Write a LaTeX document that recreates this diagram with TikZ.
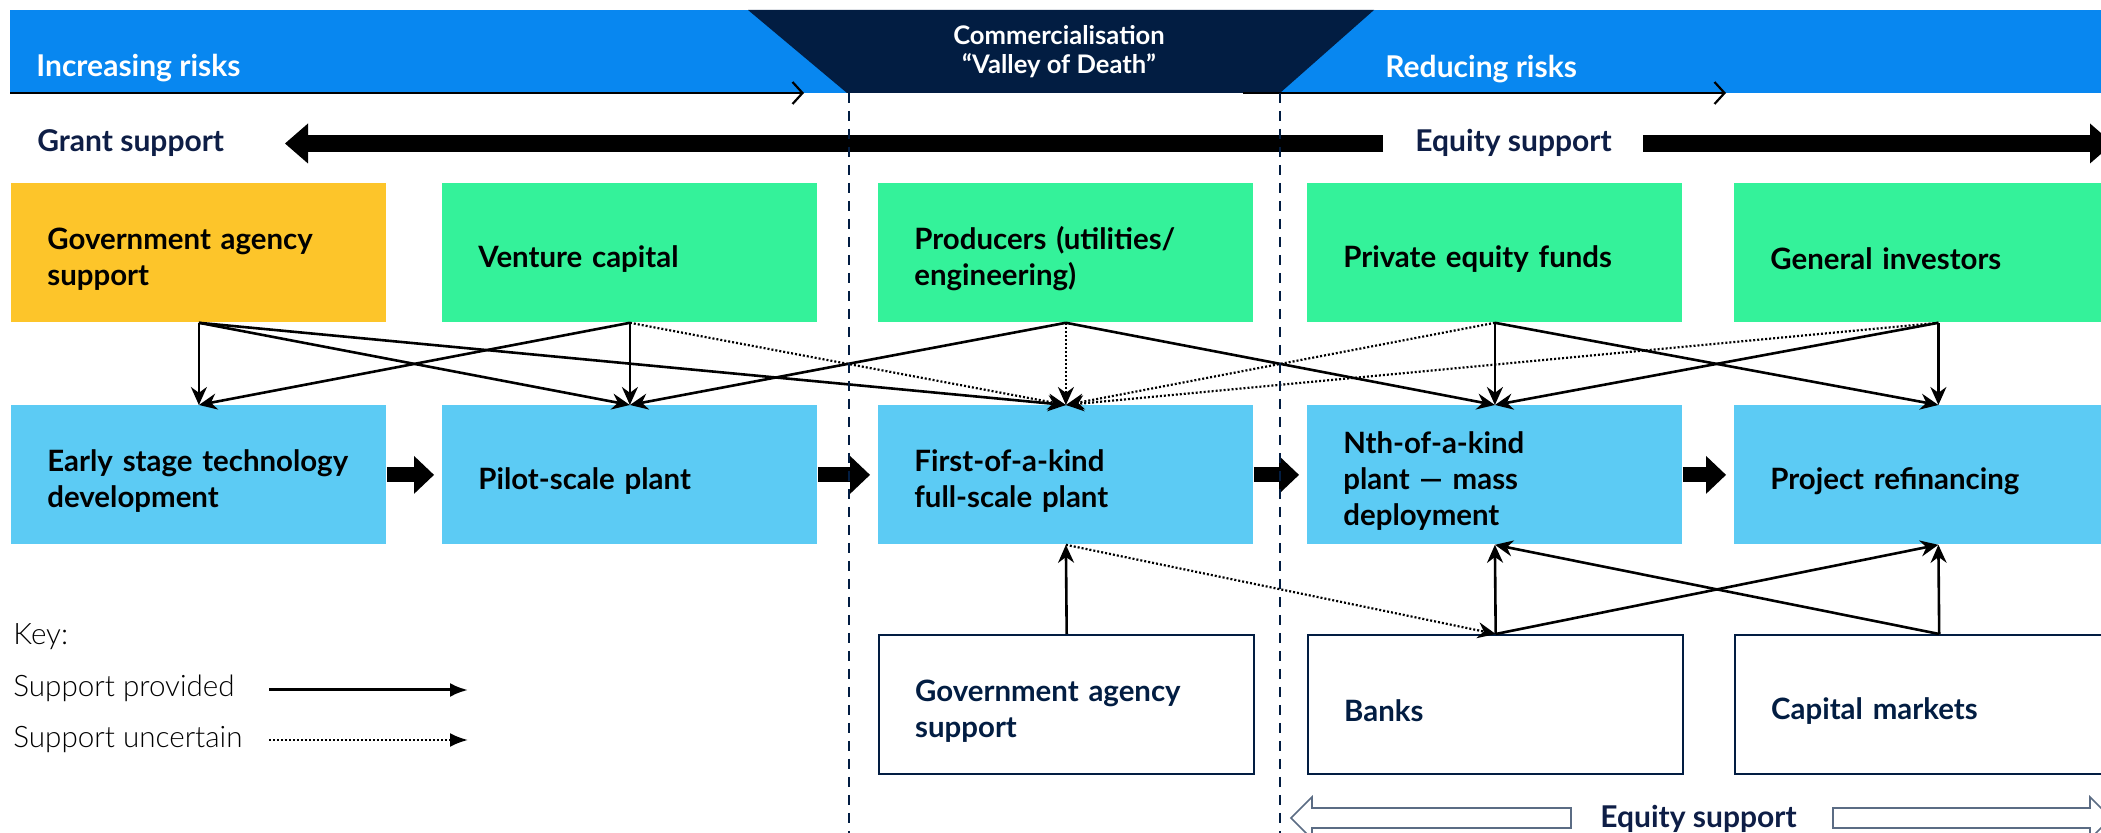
\documentclass[tikz,border=0pt]{standalone}
\usepackage{fontspec}
\setmainfont{Lato}
\IfFontExistsTF{Lato Light}{\newfontfamily\keyfont{Lato Light}}{\newfontfamily\keyfont{Lato}}
\usetikzlibrary{arrows.meta}

\definecolor{riskblue}{RGB}{8,135,240}
\definecolor{valleynavy}{RGB}{2,29,66}
\definecolor{govyellow}{RGB}{253,197,42}
\definecolor{fundgreen}{RGB}{52,242,154}
\definecolor{stageblue}{RGB}{92,203,244}
\definecolor{labelnavy}{RGB}{14,30,70}

\newcommand{\boxfont}{\fontsize{14.7}{18}\selectfont\bfseries}
\newcommand{\bannerfont}{\fontsize{15}{18}\selectfont\bfseries}
\newcommand{\valleyfont}{\fontsize{12.8}{15}\selectfont\bfseries}
\newcommand{\legendfont}{\fontsize{14.8}{17}\selectfont\keyfont}

\tikzset{
  stage/.style={rectangle, anchor=north west, minimum height=69.5pt,
    text width=151.5pt, inner xsep=18pt, inner ysep=0pt, align=left,
    font=\boxfont, execute at begin node={\rule{0pt}{17pt}}},
  widestage/.style={stage, text width=168pt},
  lender/.style={stage, draw=valleynavy, line width=1.2pt, fill=white,
    text=valleynavy},
  provided/.style={line width=1.3pt, -{Stealth[length=9pt,width=8pt]}},
  uncertain/.style={provided, line width=1.1pt, dash pattern=on 1pt off 1pt},
  fatarrow/.style={line width=7.5pt, shorten >=4pt,
    -{Triangle[length=10pt,width=19pt,line width=0pt]}},
  bigarrow/.style={line width=8.5pt,
    -{Triangle[length=11.5pt,width=20pt,line width=0pt]}},
  hollow/.style={draw=valleynavy!65, line width=0.8pt, fill=white},
  riskline/.style={line width=1.1pt, -{Straight Barb[length=5pt,width=11pt]}},
  valley/.style={valleynavy, line width=1.1pt, dash pattern=on 5pt off 4pt},
  plain/.style={inner sep=0pt},
}

\begin{document}
\begin{tikzpicture}[x=0.5pt,y=-0.5pt]
\clip (0,0) rectangle (2101,833);
\fill[white] (0,0) rectangle (2101,833);

\fill[riskblue] (10,10) rectangle (2101,93);
\fill[valleynavy] (748,10) -- (1374,10) -- (1280,93) -- (847,93) -- cycle;
\node[plain, anchor=base west, text=white, font=\bannerfont] (incr) at (36,77) {Increasing risks};
\node[plain, anchor=base west, text=white, font=\bannerfont] (redu) at (1385,78) {Reducing risks};
\node[plain, anchor=base, text=white, font=\valleyfont] (comm) at (1059,45) {Commercialisation};
\node[plain, anchor=base, text=white, font=\valleyfont] (vod) at (1059,74) {“Valley of Death”};
\draw[riskline] (10,93) -- (804,93);
\draw[riskline] (1243,93) -- (1726,93);

\node[plain, anchor=base west, text=labelnavy, font=\bannerfont] (grant) at (37,152) {Grant support};
\node[plain, anchor=base west, text=labelnavy, font=\bannerfont] (eqtop) at (1415,152) {Equity support};
\coordinate (grantfrom) at (1383,143.5);
\coordinate (grantto) at (285,143.5);
\coordinate (equityfrom) at (1643,143.5);
\coordinate (equityto) at (2113,143.5);
\draw[bigarrow] (grantfrom) -- (grantto);
\draw[bigarrow] (equityfrom) -- (equityto);

\node[stage, fill=govyellow] (gov) at (11,183) {Government agency\\support};
\node[stage, fill=fundgreen] (vc) at (442,183) {Venture capital};
\node[stage, fill=fundgreen] (prod) at (878,183) {Producers (utilities/\\engineering)};
\node[stage, fill=fundgreen] (pe) at (1307,183) {Private equity funds};
\node[widestage, fill=fundgreen] (inv) at (1734,183) {General investors};

\node[stage, fill=stageblue] (early) at (11,405) {Early stage technology\\development};
\node[stage, fill=stageblue] (pilot) at (442,405) {Pilot-scale plant};
\node[stage, fill=stageblue] (foak) at (878,405) {First-of-a-kind\\full-scale plant};
\node[stage, fill=stageblue] (nth) at (1307,405) {Nth-of-a-kind\\plant — mass\\deployment};
\node[widestage, fill=stageblue] (refi) at (1734,405) {Project refinancing};

\node[lender] (govb) at (878,634) {Government agency\\support};
\node[lender] (banks) at (1307,634) {Banks};
\node[lender, text width=168pt] (capm) at (1734,634) {Capital markets};

\draw[fatarrow] (early.east) -- (pilot.west);
\draw[fatarrow] (pilot.east) -- (foak.west);
\draw[fatarrow] (foak.east) -- (nth.west);
\draw[fatarrow] (nth.east) -- (refi.west);

\draw[provided] (gov.south) -- (early.north);
\draw[provided] (gov.south) -- (pilot.north);
\draw[provided] (gov.south) -- (foak.north);
\draw[provided] (vc.south) -- (early.north);
\draw[provided] (vc.south) -- (pilot.north);
\draw[uncertain] (vc.south) -- (foak.north);
\draw[provided] (prod.south) -- (pilot.north);
\draw[uncertain] (prod.south) -- (foak.north);
\draw[provided] (prod.south) -- (nth.north);
\draw[uncertain] (pe.south) -- (foak.north);
\draw[provided] (pe.south) -- (nth.north);
\draw[provided] (pe.south) -- (refi.north);
\draw[uncertain] (inv.south) -- (foak.north);
\draw[provided] (inv.south) -- (nth.north);
\draw[provided] (inv.south) -- (refi.north);

\draw[provided] (govb.north) -- (foak.south);
\draw[uncertain] (foak.south) -- (banks.north);
\draw[provided] (banks.north) -- (nth.south);
\draw[provided] (banks.north) -- (refi.south);
\draw[provided] (capm.north) -- (nth.south);
\draw[provided] (capm.north) -- (refi.south);

\draw[valley] (849,93) -- (849,833);
\draw[valley] (1280,93) -- (1280,833);

\draw[hollow] (1571,808) -- (1312,808) -- (1312,797) -- (1291,818) -- (1312,839) -- (1312,828) -- (1571,828) -- cycle;
\draw[hollow] (1833,808) -- (2090,808) -- (2090,797) -- (2111,818) -- (2090,839) -- (2090,828) -- (1833,828) -- cycle;
\node[plain, anchor=base west, text=labelnavy, font=\bannerfont] (eqbot) at (1600,828) {Equity support};

\node[plain, anchor=base west, font=\legendfont] (key) at (13,645) {Key:};
\node[plain, anchor=base west, font=\legendfont] (keyprov) at (13,697) {Support provided};
\node[plain, anchor=base west, font=\legendfont] (keyunc) at (13,748) {Support uncertain};
\coordinate (provfrom) at (269,690);
\coordinate (provto) at (468,690);
\coordinate (uncfrom) at (269,740);
\coordinate (uncto) at (468,740);
\draw[line width=1.5pt, -{Latex[length=9pt,width=7pt]}] (provfrom) -- (provto);
\draw[line width=1.2pt, dash pattern=on 1pt off 1pt, -{Latex[length=9pt,width=7pt]}] (uncfrom) -- (uncto);
\end{tikzpicture}
\end{document}
